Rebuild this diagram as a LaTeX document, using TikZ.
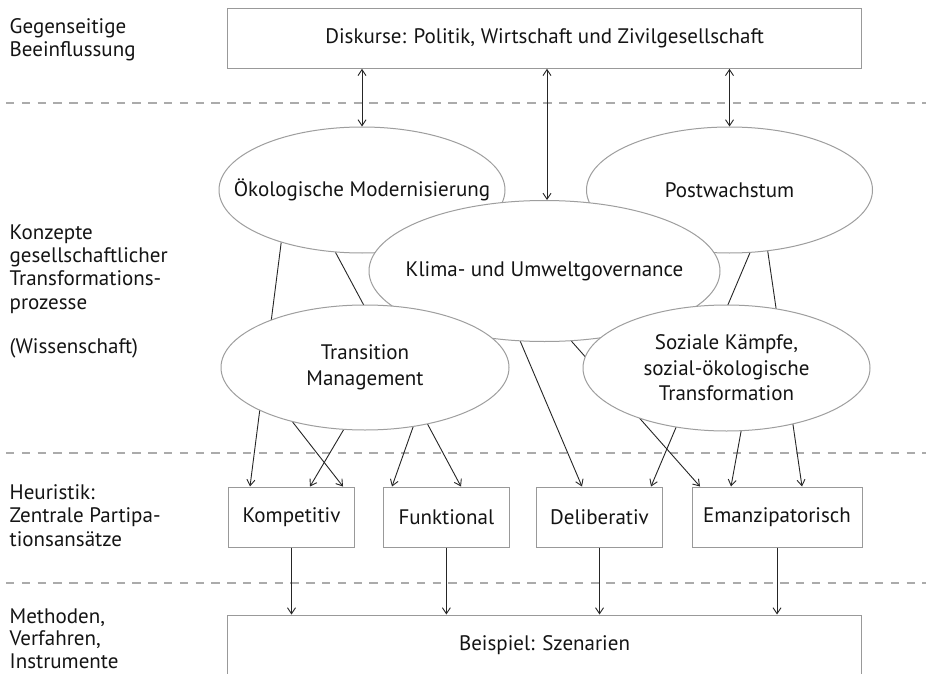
\documentclass[tikz,border=0pt]{standalone}
\usepackage{fontspec}
\setmainfont{PT Sans}
\usetikzlibrary{arrows.meta,shapes.geometric,calc}
\begin{document}
\begin{tikzpicture}[x=1pt,y=-1pt,
  every node/.style={font=\fontsize{21}{25.5}\selectfont, text=black!92},
  ell/.style={ellipse, draw=black!38, fill=white, line width=1pt, inner sep=-40pt, align=center},
  box/.style={rectangle, draw=black!40, fill=white, line width=1pt, inner sep=0pt, align=center},
  sep/.style={draw=black!33, line width=1.2pt, dash pattern=on 8.3pt off 7.5pt},
  con/.style={draw=black!85, line width=0.9pt},
  arr/.style={con, -{Straight Barb[length=6pt,width=8pt]}},
  darr/.style={con, {Straight Barb[length=6pt,width=8pt]}-{Straight Barb[length=6pt,width=8pt]}},
  side/.style={anchor=base west, align=left, inner sep=0pt, font=\fontsize{21}{23.3}\selectfont}
]
\useasboundingbox (0,0) rectangle (926,674);
\clip (0,0) rectangle (926,674);
\fill[white] (0,0) rectangle (926,674);

% separators
\draw[sep] (6,103) -- (926,103);
\draw[sep] (6,453) -- (926,453);
\draw[sep] (6,583) -- (926,583);

% side labels (anchored at the baseline of their last line)
\node[side] (l1) at (9.5,56.6) {Gegenseitige\\Beeinflussung};
\node[side] (l2) at (9.5,353.3) {Konzepte\\gesellschaftlicher\\Transformations-\\prozesse\\[20.8pt](Wissenschaft)};
\node[side] (l3) at (9.5,546) {Heuristik:\\Zentrale Partipa-\\tionsansätze};
\node[side, font=\fontsize{21}{22.6}\selectfont] (l4) at (9.5,668.5) {Methoden,\\Verfahren,\\Instrumente};

% boxes
\node[box, minimum width=634pt, minimum height=60pt] (disk) at (544.7,38.3) {Diskurse: Politik, Wirtschaft und Zivilgesellschaft};
\node[box, minimum width=126pt, minimum height=60pt] (komp) at (291.5,517) {Kompetitiv};
\node[box, minimum width=125.3pt, minimum height=60pt] (funk) at (446.4,517) {Funktional};
\node[box, minimum width=126pt, minimum height=60pt] (delib) at (599.5,517) {Deliberativ};
\node[box, minimum width=170pt, minimum height=60pt] (eman) at (777,517) {Emanzipatorisch};
\node[box, minimum width=633.5pt, minimum height=60pt] (scen) at (544.5,645) {Beispiel: Szenarien};

% ellipse centres
\path (362,190) coordinate (c-oeko) (729.5,190) coordinate (c-post) (544.5,271) coordinate (c-klima)
      (365,367.5) coordinate (c-tm) (726.5,368) coordinate (c-soz);

% invisible ellipse shapes first, to get anchors for the connectors
\node[ell, draw=none, fill=none, minimum width=286pt, minimum height=126pt] (oeko) at (c-oeko) {};
\node[ell, draw=none, fill=none, minimum width=286pt, minimum height=126pt] (post) at (c-post) {};
\node[ell, draw=none, fill=none, minimum width=351pt, minimum height=141pt] (klima) at (c-klima) {};
\node[ell, draw=none, fill=none, minimum width=288pt, minimum height=125pt] (tm) at (c-tm) {};
\node[ell, draw=none, fill=none, minimum width=287pt, minimum height=126pt] (soz) at (c-soz) {};

% connectors concept -> heuristic
\draw[arr] (oeko.213) -- ([xshift=-41.5pt]komp.north);
\draw[arr] (tm.217) -- ([xshift=51.5pt]komp.north);
\draw[arr] (tm.251) -- ([xshift=18.5pt]komp.north);
\draw[arr] (tm.-51) -- ([xshift=-54.4pt]funk.north);
\draw[arr] (oeko.247) -- ([xshift=14.6pt]funk.north);
\draw[arr] (klima.251) -- ([xshift=-17.5pt]delib.north);
\draw[arr] (post.-72) -- ([xshift=51.5pt]delib.north);
\draw[arr] (klima.-69) -- ([xshift=-77pt]eman.north);
\draw[arr] (soz.-77) -- ([xshift=-46pt]eman.north);
\draw[arr] (post.-58) -- ([xshift=25pt]eman.north);

% visible ellipses
\node[ell, minimum width=286pt, minimum height=126pt] (oekoV) at (c-oeko) {Ökologische Modernisierung};
\node[ell, minimum width=286pt, minimum height=126pt] (postV) at (c-post) {Postwachstum};
\node[ell, minimum width=351pt, minimum height=141pt] (klimaV) at (c-klima) {Klima- und Umweltgovernance};
\node[ell, minimum width=288pt, minimum height=125pt] (tmV) at (c-tm) {Transition\\Management};
\node[ell, minimum width=287pt, minimum height=126pt] (sozV) at (c-soz) {Soziale Kämpfe,\\sozial-ökologische\\Transformation};

% discourse arrows
\draw[darr] (disk.south -| oeko.north) -- (oeko.north);
\draw[darr] ([xshift=2.5pt]klima.north |- disk.south) -- ([xshift=2.5pt]klima.north);
\draw[darr] (disk.south -| post.north) -- (post.north);

% heuristic -> methods
\draw[arr] (komp.south) -- (komp.south |- scen.north);
\draw[arr] (funk.south) -- (funk.south |- scen.north);
\draw[arr] (delib.south) -- (delib.south |- scen.north);
\draw[arr] (eman.south) -- (eman.south |- scen.north);
\end{tikzpicture}
\end{document}
